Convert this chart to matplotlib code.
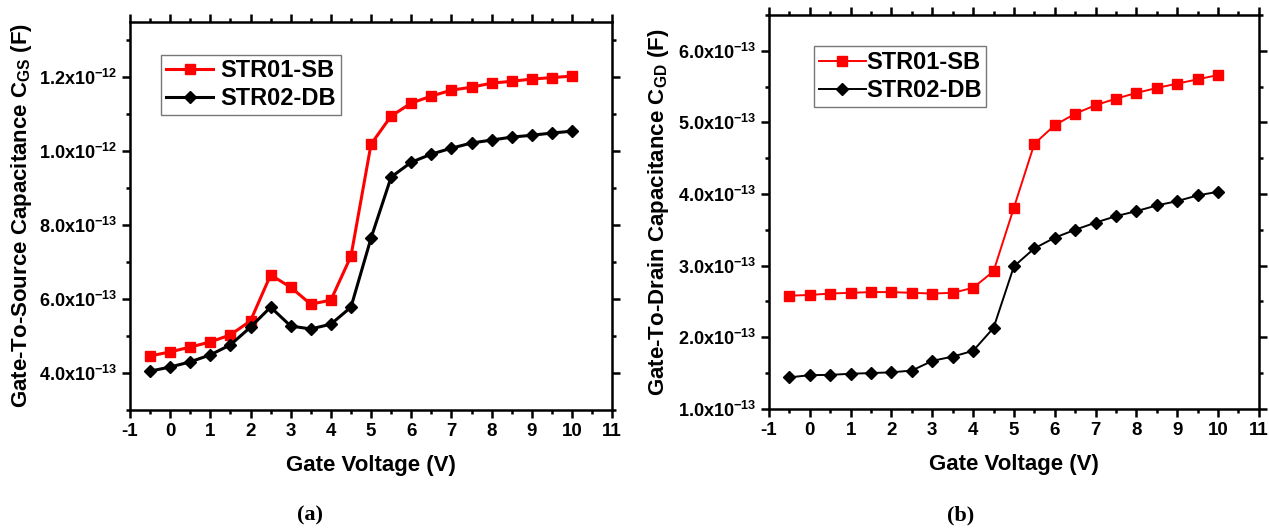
import numpy as np
import matplotlib
matplotlib.use("Agg")
import matplotlib.pyplot as plt
from matplotlib.ticker import FixedLocator, FuncFormatter

plt.rcParams["font.family"] = "Liberation Sans"
plt.rcParams["font.weight"] = "bold"
plt.rcParams["axes.unicode_minus"] = False
plt.rcParams["mathtext.fontset"] = "custom"
plt.rcParams["mathtext.rm"] = "Liberation Sans:bold"
plt.rcParams["mathtext.bf"] = "Liberation Sans:bold"
plt.rcParams["mathtext.it"] = "Liberation Sans:bold"

# gate voltage sweep
vg = [-0.5, 0, 0.5, 1, 1.5, 2, 2.5, 3, 3.5, 4, 4.5, 5, 5.5, 6, 6.5, 7, 7.5, 8, 8.5, 9, 9.5, 10]

# (a) gate-to-source capacitance, units of 1e-13 F
cgs_sb = [4.46, 4.57, 4.70, 4.84, 5.03, 5.41, 6.65, 6.32, 5.86, 5.97, 7.16, 10.19,
          10.95, 11.30, 11.49, 11.65, 11.73, 11.84, 11.89, 11.95, 11.99, 12.03]
cgs_db = [4.05, 4.16, 4.30, 4.49, 4.76, 5.24, 5.78, 5.27, 5.19, 5.32, 5.78, 7.65,
          9.30, 9.70, 9.92, 10.08, 10.22, 10.30, 10.38, 10.43, 10.49, 10.54]

# (b) gate-to-drain capacitance, units of 1e-13 F
cgd_sb = [2.58, 2.59, 2.61, 2.62, 2.63, 2.63, 2.62, 2.61, 2.62, 2.69, 2.92, 3.81,
          4.70, 4.96, 5.12, 5.24, 5.33, 5.41, 5.48, 5.54, 5.60, 5.66]
cgd_db = [1.44, 1.47, 1.475, 1.49, 1.50, 1.51, 1.535, 1.67, 1.73, 1.81, 2.13, 2.99,
          3.24, 3.39, 3.50, 3.60, 3.69, 3.76, 3.84, 3.90, 3.98, 4.03]

labels = ["STR01-SB", "STR02-DB"]

x_major = list(range(-1, 12))
x_minor = [v + 0.5 for v in range(-1, 11)]
gs_major = [4e-13, 6e-13, 8e-13, 1.0e-12, 1.2e-12]
gs_minor = [3e-13, 5e-13, 7e-13, 9e-13, 1.1e-12, 1.3e-12]
gd_major = [1e-13, 2e-13, 3e-13, 4e-13, 5e-13, 6e-13]
gd_minor = [1.5e-13, 2.5e-13, 3.5e-13, 4.5e-13, 5.5e-13, 6.5e-13]


def sci_fmt(v, pos):
    e = int(np.floor(np.log10(abs(v)) + 1e-9))
    m = v / 10 ** e
    return f"{m:.1f}x10$^{{{e}}}$"


def style_axes(ax, ylim, ymajor, yminor):
    ax.set_xlim(-1, 11)
    ax.set_ylim(*ylim)
    ax.xaxis.set_major_locator(FixedLocator(x_major))
    ax.xaxis.set_minor_locator(FixedLocator(x_minor))
    ax.yaxis.set_major_locator(FixedLocator(ymajor))
    ax.yaxis.set_minor_locator(FixedLocator(yminor))
    ax.yaxis.set_major_formatter(FuncFormatter(sci_fmt))
    ax.tick_params(which="both", direction="out", top=True, right=True,
                   width=1.8)
    ax.tick_params(axis="x", labelsize=13.5)
    ax.tick_params(axis="y", labelsize=13)
    ax.tick_params(which="major", length=6)
    ax.tick_params(which="minor", length=3)
    for s in ax.spines.values():
        s.set_linewidth(1.8)
    for lab in ax.get_xticklabels() + ax.get_yticklabels():
        lab.set_fontweight("bold")
    ax.set_xlabel("Gate Voltage (V)", fontsize=16, fontweight="bold", labelpad=11)


fig = plt.figure(figsize=(12.69, 5.31), dpi=100)
x = np.array(vg)

ax1 = fig.add_axes([0.1024, 0.228, 0.380, 0.731])
ax1.plot(x, np.array(cgs_sb) * 1e-13, color="#ff0000", lw=2.2, marker="s", ms=7,
         label=labels[0])
ax1.plot(x, np.array(cgs_db) * 1e-13, color="black", lw=2.2, marker="D", ms=6.5,
         label=labels[1])
style_axes(ax1, (3.0e-13, 1.35e-12), gs_major, gs_minor)
ax1.set_ylabel("Gate-To-Source Capacitance C$_{\\mathrm{GS}}$ (F)", fontsize=16,
               fontweight="bold")
ax1.yaxis.set_label_coords(-0.2, 0.5)
leg1 = ax1.legend(loc="upper left", bbox_to_anchor=(0.065, 0.915), fontsize=17,
                  handlelength=2.0, handletextpad=0.3, borderpad=0.2,
                  labelspacing=0.2, frameon=True, fancybox=False,
                  borderaxespad=0)
leg1.get_frame().set_edgecolor("#555555")
leg1.get_frame().set_linewidth(1.0)

ax2 = fig.add_axes([0.606, 0.230, 0.386, 0.742])
ax2.plot(x, np.array(cgd_sb) * 1e-13, color="#ff0000", lw=1.4, marker="s", ms=7,
         label=labels[0])
ax2.plot(x, np.array(cgd_db) * 1e-13, color="black", lw=1.4, marker="D", ms=6.5,
         label=labels[1])
style_axes(ax2, (1.0e-13, 6.5e-13), gd_major, gd_minor)
ax2.set_ylabel("Gate-To-Drain Capacitance C$_{\\mathrm{GD}}$ (F)", fontsize=16,
               fontweight="bold")
ax2.yaxis.set_label_coords(-0.2, 0.5)
leg2 = ax2.legend(loc="upper left", bbox_to_anchor=(0.092, 0.92), fontsize=17,
                  handlelength=2.0, handletextpad=0.0, borderpad=0.2,
                  labelspacing=0.2, frameon=True, fancybox=False,
                  borderaxespad=0)
leg2.get_frame().set_edgecolor("#555555")
leg2.get_frame().set_linewidth(1.0)

fig.text(0.244, 0.03, "(a)", family="Liberation Serif", fontweight="bold",
         fontsize=16, ha="center", va="center")
fig.text(0.757, 0.03, "(b)", family="Liberation Serif", fontweight="bold",
         fontsize=16, ha="center", va="center")

fig.savefig("out.png", dpi=100, facecolor="white")
